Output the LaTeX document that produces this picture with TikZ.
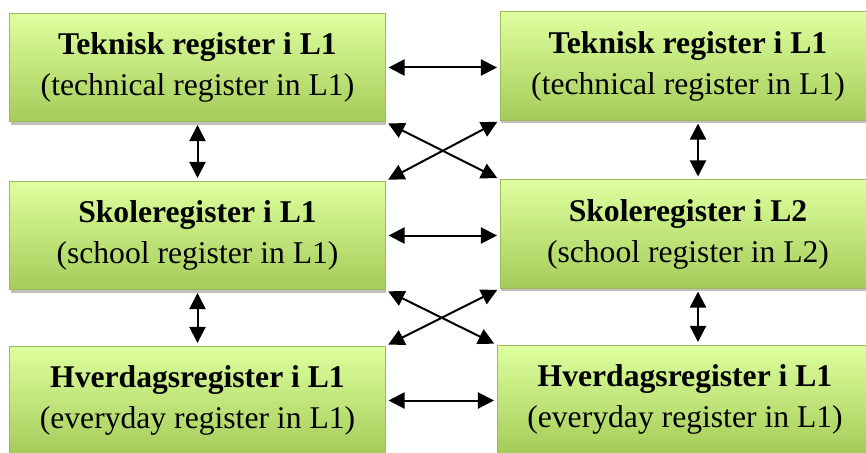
\documentclass[tikz,border=0pt]{standalone}
\usepackage{fontspec}
\setmainfont{Liberation Serif}
\usepackage{tikz}
\usetikzlibrary{arrows.meta, positioning, calc, shadows}
\definecolor{boxtop}{HTML}{DEFF9E}
\definecolor{boxbot}{HTML}{A4CC59}
\definecolor{boxline}{HTML}{9BBB59}

\begin{document}
\begin{tikzpicture}[x=0.03cm, y=-0.03cm,
    regbox/.style={rectangle, draw=boxline, line width=0.03cm, top color=boxtop, bottom color=boxbot,
        minimum width=11.25cm, minimum height=3.24cm, align=center, inner sep=0pt,
        font=\fontsize{27}{35}\selectfont,
        drop shadow={shadow xshift=0.03cm, shadow yshift=-0.09cm, opacity=0.25, fill=black}},
    link/.style={{Triangle[length=0.48cm, width=0.48cm]}-{Triangle[length=0.48cm, width=0.48cm]},
        line width=0.06cm, shorten <=0.09cm, shorten >=0.09cm}]

    % page frame
    \clip (0,0) rectangle (866,453);

    % left column (L1)
    \node[regbox] (tl) at (197.5,67.5) {\textbf{Teknisk register i L1}\\(technical register in L1)};
    \node[regbox] (ml) at (197.5,235.5) {\textbf{Skoleregister i L1}\\(school register in L1)};
    \node[regbox] (bl) at (197.5,400.5) {\textbf{Hverdagsregister i L1}\\(everyday register in L1)};

    % right column
    \node[regbox] (tr) at (688,66) {\textbf{Teknisk register i L1}\\(technical register in L1)};
    \node[regbox] (mr) at (688,234) {\textbf{Skoleregister i L2}\\(school register in L2)};
    \node[regbox] (br) at (685,399.5) {\textbf{Hverdagsregister i L1}\\(everyday register in L1)};

    % horizontal links
    \draw[link] (tl.east) -- (tl.east -| tr.west);
    \draw[link] (ml.east) -- (ml.east -| mr.west);
    \draw[link] (bl.east) -- (bl.east -| br.west);

    % vertical links
    \coordinate (trs) at ($(tr.south)+(10,0)$);
    \coordinate (mrs) at ($(mr.south)+(10,0)$);
    \draw[link] (tl.south) -- (ml.north);
    \draw[link] (ml.south) -- (bl.north);
    \draw[link] (trs) -- (trs |- mr.north);
    \draw[link] (mrs) -- (mrs |- br.north);

    % crossing links
    \draw[link] (tl.south east) -- (mr.north west);
    \draw[link] (tr.south west) -- (ml.north east);
    \draw[link] (ml.south east) -- (br.north west);
    \draw[link] (mr.south west) -- (bl.north east);

\end{tikzpicture}
\end{document}
